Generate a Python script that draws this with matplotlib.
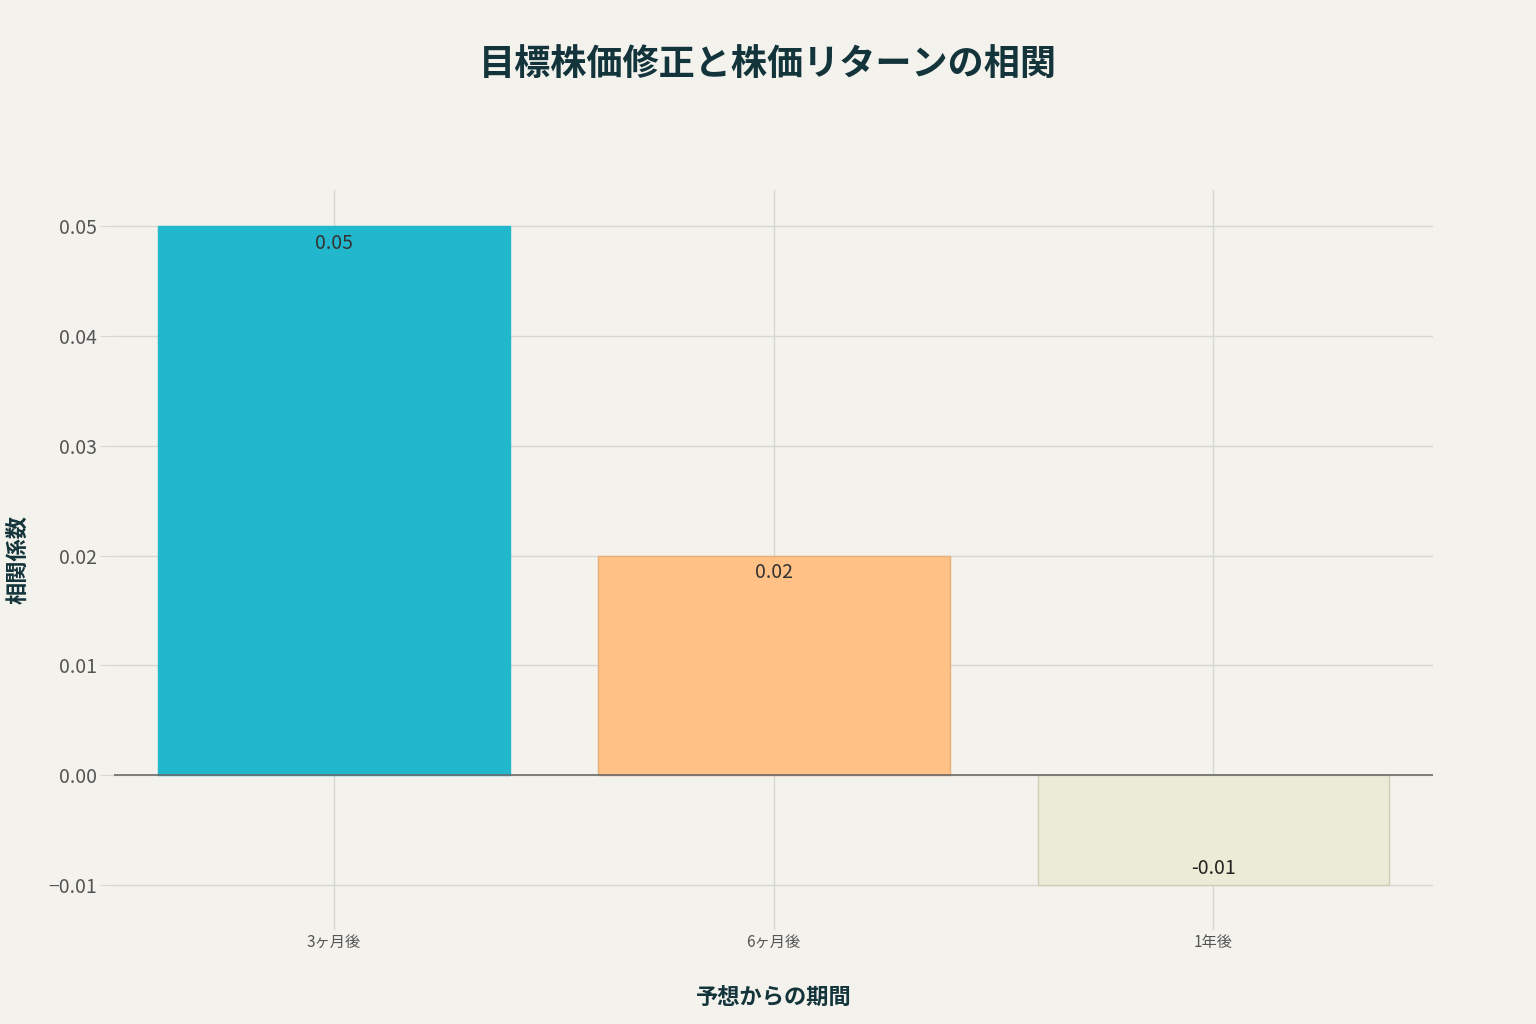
import matplotlib
matplotlib.use('Agg')
import matplotlib.pyplot as plt
import numpy as np

plt.rcParams['font.family'] = ['Noto Sans CJK JP', 'DejaVu Sans']
plt.rcParams['axes.unicode_minus'] = True

# data
periods = ['3ヶ月後', '6ヶ月後', '1年後']
corr = [0.05, 0.02, -0.01]
bar_labels = ['0.05', '0.02', '-0.01']

colors = ['#21B8CD', '#FFC185', '#ECEBD5']
edges = ['#21B8CD', '#E8AE78', '#CFCDB8']

bg = '#F3F2EC'
fig = plt.figure(figsize=(15.36, 10.24), dpi=100, facecolor=bg)
ax = fig.add_axes([0.0742, 0.0918, 0.859, 0.7227], facecolor=bg)

x = np.arange(len(periods))
bars = ax.bar(x, corr, width=0.8, color=colors, edgecolor=edges, linewidth=1, zorder=2)

ax.axhline(0, color='#6b6b6b', lw=1.2, zorder=3)

for b, v, t in zip(bars, corr, bar_labels):
    xc = b.get_x() + b.get_width() / 2
    if v >= 0:
        ax.text(xc, v - 0.0006, t, ha='center', va='top', fontsize=14, color='#333333', zorder=4)
    else:
        ax.text(xc, v + 0.0005, t, ha='center', va='bottom', fontsize=14, color='#222222', zorder=4)

ax.set_xlim(-0.5, 2.5)
ax.set_ylim(-0.0141, 0.0533)
ax.set_yticks([-0.01, 0.0, 0.01, 0.02, 0.03, 0.04, 0.05])
ax.set_yticklabels(['\u22120.01', '0.00', '0.01', '0.02', '0.03', '0.04', '0.05'])
ax.set_xticks(x)
ax.set_xticklabels(periods)

ax.grid(True, color='#D8D8D3', lw=1, zorder=0)
for s in ax.spines.values():
    s.set_visible(False)

ax.tick_params(axis='y', labelsize=14, labelcolor='#555555', length=10, color='#D8D8D3', pad=2)
ax.tick_params(axis='x', labelsize=11, labelcolor='#555555', length=0, pad=3)

ax.set_xlabel('予想からの期間', fontsize=16, fontweight='bold', color='#13343B', labelpad=25)
ax.set_ylabel('相関係数', fontsize=16, fontweight='bold', color='#13343B', labelpad=14)

fig.suptitle('目標株価修正と株価リターンの相関', fontsize=26, fontweight='bold',
             color='#13343B', y=0.955)

fig.savefig('out.png', dpi=100, facecolor=bg)
